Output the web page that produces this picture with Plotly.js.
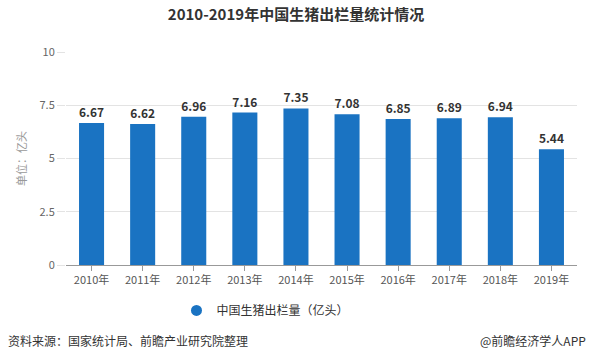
<!DOCTYPE html>
<html><head><meta charset="utf-8">
<script src="https://cdn.plot.ly/plotly-3.0.1.min.js"></script>
<style>html,body{margin:0;padding:0;background:#fff}#chart{width:592px;height:362px}</style>
</head><body><div id="chart"></div>
<script>
const categories = ['2010年','2011年','2012年','2013年','2014年','2015年','2016年','2017年','2018年','2019年'];
const values = [6.67, 6.62, 6.96, 7.16, 7.35, 7.08, 6.85, 6.89, 6.94, 5.44];
const seriesName = '中国生猪出栏量（亿头）';
const barColor = '#1a73c2';
const F = '"Noto Sans CJK SC", "Noto Sans", sans-serif';

const trace = {
  type: 'bar', x: categories, y: values, name: seriesName,
  marker: {color: barColor}, width: 0.49,
  text: values.map(v => v.toFixed(2)), textposition: 'outside',
  textfont: {family: F, size: 12, color: '#333', weight: 'bold'},
  cliponaxis: false, showlegend: false
};
const legendTrace = {
  type: 'scatter', mode: 'markers', x: [null], y: [null], name: seriesName,
  marker: {color: barColor, size: 11, symbol: 'circle'}, showlegend: true
};
const layout = {
  width: 592, height: 362,
  margin: {l: 66, r: 15, t: 52, b: 97},
  paper_bgcolor: '#fff', plot_bgcolor: '#fff',
  font: {family: F, color: '#555'},
  title: {text: '<b>2010-2019年中国生猪出栏量统计情况</b>', x: 0.5, xanchor: 'center', y: 0.975, yanchor: 'top',
          font: {family: F, size: 15, color: '#333'}},
  xaxis: {type: 'category', showline: true, linecolor: '#999', linewidth: 1,
          ticks: 'outside', ticklen: 5, tickcolor: '#999', tickfont: {size: 11, color: '#555'}, showgrid: false},
  yaxis: {range: [0, 10], tickvals: [0, 2.5, 5, 7.5, 10], ticktext: ['0','2.5','5','7.5','10'],
          showgrid: true, gridcolor: '#e3e3e3', zeroline: false, showline: false,
          ticks: 'outside', ticklen: 8, tickcolor: '#e3e3e3', tickfont: {size: 11, color: '#666'},
          title: {text: '单位：亿头', font: {size: 11, color: '#999'}, standoff: 10}},
  legend: {orientation: 'h', x: 0.5 - 56/511, xanchor: 'center', y: -0.145, yanchor: 'top',
           font: {size: 12, color: '#333'}, itemwidth: 30},
  bargap: 0.5,
  annotations: [
    {xref: 'paper', yref: 'paper', x: -60/511, xanchor: 'left', y: -0.305, yanchor: 'top', showarrow: false,
     text: '资料来源：国家统计局、前瞻产业研究院整理', font: {size: 12, color: '#333'}},
    {xref: 'paper', yref: 'paper', x: 1 + 11/511, xanchor: 'right', y: -0.305, yanchor: 'top', showarrow: false,
     text: '@前瞻经济学人APP', font: {size: 12, color: '#333'}}
  ]
};
Plotly.newPlot('chart', [trace, legendTrace], layout, {displayModeBar: false, staticPlot: true});
</script></body></html>
